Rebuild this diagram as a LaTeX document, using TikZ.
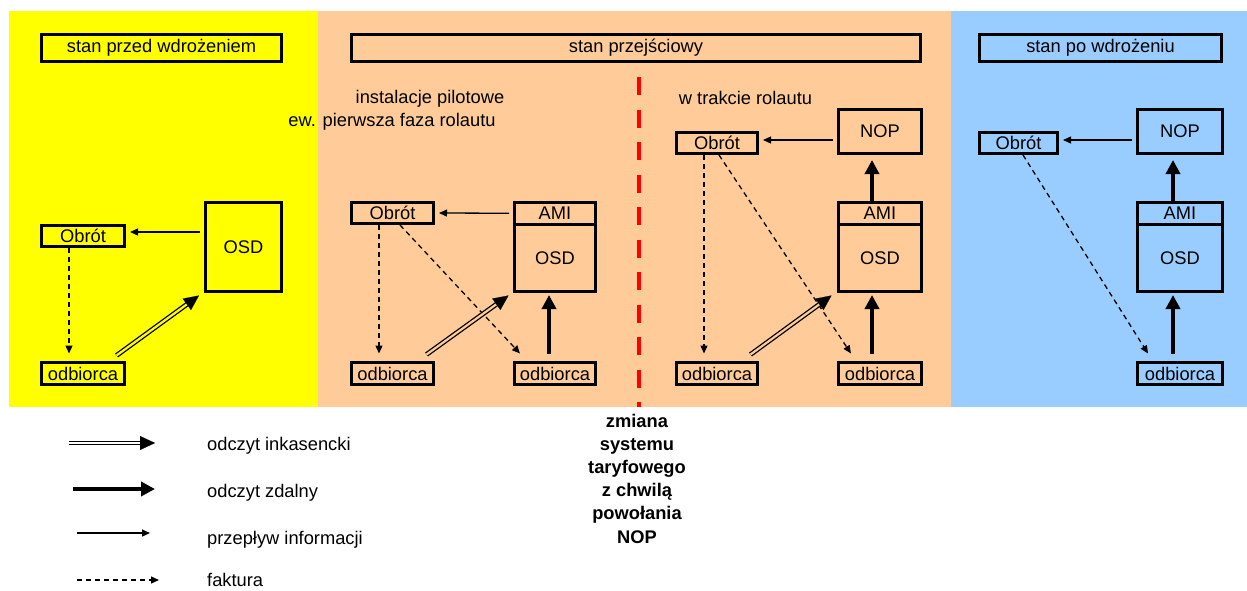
\documentclass[tikz,border=0pt]{standalone}
\usepackage{fontspec}
\setmainfont{Liberation Sans}
\usetikzlibrary{arrows.meta,calc}
\definecolor{prefill}{HTML}{FFFF00}
\definecolor{transfill}{HTML}{FFCC99}
\definecolor{postfill}{HTML}{99CCFF}
\definecolor{cutred}{HTML}{FF0000}

% double-line arrow (manual reading): doubled shaft plus a solid tip
\newcommand\dblarrow[3]{%
  \draw[line width=1.3pt, double=#1, double distance=2.2pt, shorten >=13pt] (#2) -- (#3);
  \draw[line width=0.1pt, -{Triangle[length=15pt,width=14pt]}] ($(#3)!15pt!(#2)$) -- (#3);}

\begin{document}
\begin{tikzpicture}[x=1pt,y=-1pt,
  every node/.style={font=\fontsize{18.3}{23.2}\selectfont, text=black},
  box/.style 2 args={draw=black, line width=3pt, inner sep=0pt,
    minimum width=#1, minimum height=#2},
  info/.style={line width=1.3pt, -{Triangle[length=8pt,width=7pt]}},
  bill/.style={info, dash pattern=on 5pt off 4pt},
  remote/.style={line width=4pt, -{Triangle[length=14pt,width=14pt]}}]

\useasboundingbox (0,0) rectangle (1247,590);

% panels
\fill[prefill] (9,11) rectangle (318,407);
\fill[transfill] (318,11) rectangle (951,407);
\fill[postfill] (951,11) rectangle (1247,407);

% tariff change line
\coordinate (cuttop) at (639,77);
\coordinate (cutbot) at (639,407);
\draw[cutred, line width=4pt, dash pattern=on 18pt off 14.5pt] (cuttop) -- (cutbot);

% ---- before ----
\node[box={240pt}{27pt}] (t1) at (161.5,48) {stan przed wdrożeniem};
\node[box={83pt}{21pt}] (obr1) at (83,236) {Obrót};
\node[box={76pt}{89pt}] (osd1) at (243.5,247) {OSD};
\node[box={83pt}{22pt}] (odb1) at (83,373.5) {odbiorca};

\draw[info] ($(osd1.west |- obr1.east)+(-4,-4)$) -- ($(obr1.east)+(4,-4)$);
\draw[bill] ($(obr1.south)+(-14,0)$) -- ($(odb1.north)+(-14,-7.5)$);
\coordinate (d1s) at ($(odb1.north east)+(-9.5,-5.5)$);
\coordinate (d1e) at ($(osd1.south west)+(-5,2.5)$);
\dblarrow{prefill}{d1s}{d1e}

% ---- transition ----
\node[box={569pt}{27pt}] (t2) at (636,48) {stan przejściowy};
\node[anchor=base] (pil) at (430,103.5) {instalacje pilotowe};
\node[anchor=base] (faz) at (392,126) {ew. pierwsza faza rolautu};
\node[box={82pt}{21pt}] (obr2) at (392.5,213) {Obrót};
\node[box={81pt}{21.5pt}] (ami2) at (555,213.25) {AMI};
\node[box={81pt}{67.5pt}] (osd2) at (555,257.75) {OSD};
\node[box={82pt}{22pt}] (odb2a) at (392.5,373.5) {odbiorca};
\node[box={81pt}{22pt}] (odb2b) at (555,373.5) {odbiorca};

\draw[info] ($(ami2.west)+(-4,0)$) -- ($(obr2.east)+(4,0)$);
\draw[bill] ($(obr2.south)+(-13.5,0)$) -- ($(odb2a.north)+(-13.5,-7.5)$);
\draw[bill] ($(obr2.south)+(7.5,0)$) -- ($(odb2b.north)+(-35,-7.5)$);
\coordinate (d2s) at ($(odb2a.north east)+(-8.5,-6.5)$);
\coordinate (d2e) at ($(osd2.south west)+(-4.5,2.5)$);
\dblarrow{transfill}{d2s}{d2e}
\draw[remote] ($(odb2b.north)+(-6,-7)$) -- ($(osd2.south)+(-6,2)$);

\node[anchor=base] (trk) at (745.5,104) {w trakcie rolautu};
\node[box={83pt}{44pt}] (nop3) at (880,131.5) {NOP};
\node[box={81pt}{21pt}] (obr3) at (717,143) {Obrót};
\node[box={83pt}{21.5pt}] (ami3) at (880,213.25) {AMI};
\node[box={83pt}{67.5pt}] (osd3) at (880,257.75) {OSD};
\node[box={81pt}{22pt}] (odb3a) at (717,373.5) {odbiorca};
\node[box={83pt}{22pt}] (odb3b) at (880,373.5) {odbiorca};

\draw[info] ($(nop3.west |- obr3.east)+(-4,-3)$) -- ($(obr3.east)+(4,-3)$);
\draw[bill] ($(obr3.south)+(-13,0)$) -- ($(odb3a.north)+(-13,-7.5)$);
\draw[bill] ($(obr3.south)+(2,0)$) -- ($(odb3b.north)+(-29,-7.5)$);
\coordinate (d3s) at ($(odb3a.north east)+(-8.5,-6.5)$);
\coordinate (d3e) at ($(osd3.south west)+(-5.5,2.5)$);
\dblarrow{transfill}{d3s}{d3e}
\draw[remote] ($(odb3b.north)+(-8,-7)$) -- ($(osd3.south)+(-8,2)$);
\draw[remote] ($(ami3.north)+(-8,0)$) -- ($(nop3.south)+(-8,5)$);

% ---- after ----
\node[box={242pt}{27pt}] (t4) at (1100.5,48) {stan po wdrożeniu};
\node[box={85pt}{44pt}] (nop4) at (1180,131.5) {NOP};
\node[box={78pt}{21pt}] (obr4) at (1018.5,143) {Obrót};
\node[box={85pt}{21.5pt}] (ami4) at (1180,213.25) {AMI};
\node[box={85pt}{67.5pt}] (osd4) at (1180,257.75) {OSD};
\node[box={85pt}{22pt}] (odb4) at (1180,373.5) {odbiorca};

\draw[info] ($(nop4.west |- obr4.east)+(-4,-3)$) -- ($(obr4.east)+(4,-3)$);
\draw[bill] ($(obr4.south)+(4.5,0)$) -- ($(odb4.north)+(-32,-7.5)$);
\draw[remote] ($(odb4.north)+(-7,-7)$) -- ($(osd4.south)+(-7,2)$);
\draw[remote] ($(ami4.north)+(-7,0)$) -- ($(nop4.south)+(-7,5)$);

% ---- note under the cut line ----
\node[font=\fontsize{18.3}{23.2}\selectfont\bfseries, align=center, inner sep=0pt]
  (note) at (637,478.5) {zmiana\\systemu\\taryfowego\\z chwilą\\powołania\\NOP};

% ---- legend ----
\coordinate (lg1a) at (69,443);
\coordinate (lg1b) at (155,443);
\dblarrow{white}{lg1a}{lg1b}
\coordinate (lg2a) at (73,489);
\coordinate (lg2b) at (155,489);
\draw[remote] (lg2a) -- (lg2b);
\coordinate (lg3a) at (77,533);
\coordinate (lg3b) at (150,533);
\draw[info] (lg3a) -- (lg3b);
\coordinate (lg4a) at (77,580);
\coordinate (lg4b) at (159,580);
\draw[bill] (lg4a) -- (lg4b);

\node[anchor=base west, inner sep=0pt] (lt1) at (207,450) {odczyt inkasencki};
\node[anchor=base west, inner sep=0pt] (lt2) at (207,497) {odczyt zdalny};
\node[anchor=base west, inner sep=0pt] (lt3) at (207,544) {przepływ informacji};
\node[anchor=base west, inner sep=0pt] (lt4) at (207,586.5) {faktura};
\end{tikzpicture}
\end{document}
